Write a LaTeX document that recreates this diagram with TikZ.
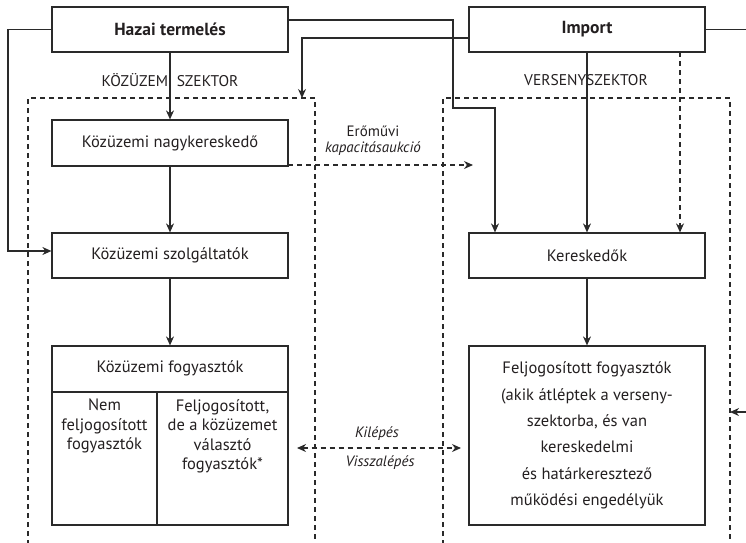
\documentclass[tikz,border=0pt]{standalone}
\usepackage{fontspec}
\setmainfont{PT Sans}
\usetikzlibrary{arrows.meta}
\definecolor{ink}{HTML}{231F20}
\definecolor{ln}{HTML}{2A2A2A}
\tikzset{
  box/.style={draw=ln, line width=1.2pt, rectangle, minimum width=236pt, inner sep=0pt, text=ink, font=\fontsize{16.5}{19}\selectfont},
  conn/.style={draw=ln, line width=1.2pt, -{Stealth[length=9pt,width=8pt]}},
  dconn/.style={conn, dash pattern=on 5pt off 4pt},
  sector/.style={draw=ln, line width=1.2pt, dash pattern=on 5pt off 4pt},
  lbl/.style={text=ink, font=\fontsize{15.5}{17}\selectfont, inner sep=0pt},
  mlbl/.style={text=ink, font=\fontsize{15}{17}\selectfont, inner sep=0pt},
  cell/.style={text=ink, font=\fontsize{16.5}{19.5}\selectfont, align=center, inner sep=0pt, anchor=north},
}
\begin{document}
\begin{tikzpicture}[x=1pt,y=-1pt]
\useasboundingbox (0,0) rectangle (746,542);
% sectors
\draw[sector] (28,545) -- (28,98) -- (315,98) -- (315,545);
\draw[sector] (443,545) -- (443,98) -- (730,98) -- (730,545);
% boxes
\node[box, minimum height=45pt, font=\fontsize{17.5}{19}\selectfont\bfseries] (hazai) at (170,29.5) {Hazai termelés};
\node[box, minimum height=45pt, font=\fontsize{17.5}{19}\selectfont\bfseries] (import) at (587,29.5) {Import};
\node[box, minimum height=46pt] (nagyker) at (170,143) {Közüzemi nagykereskedő};
\node[box, minimum height=45pt] (szolg) at (170,255.5) {Közüzemi szolgáltatók};
\node[box, minimum height=45pt] (keresk) at (587,255.5) {Kereskedők};
\node[box, minimum height=179pt] (fogy) at (170,435.5) {};
\node[box, minimum height=179pt, align=center, font=\fontsize{16.5}{26.4}\selectfont] (feljog) at (587,435.5) {Feljogosított fogyasztók\\(akik átléptek a verseny-\\szektorba, és van\\kereskedelmi\\és határkeresztező\\működési engedélyük};
% fogyasztok inner
\node[text=ink, font=\fontsize{16.5}{19}\selectfont, inner sep=0pt] (fogyt) at (170,368) {Közüzemi fogyasztók};
\coordinate (dv) at (157,392);
\draw[draw=ln, line width=1.2pt] (fogy.west |- dv) -- (fogy.east |- dv);
\draw[draw=ln, line width=1.2pt] (dv) -- (dv |- fogy.south);
\node[cell] (nemf) at (104.5,399) {Nem\\feljogosított\\fogyasztók};
\node[cell] (felf) at (222.5,399) {Feljogosított,\\de a közüzemet\\választó\\fogyasztók*};
% sector labels
\node[lbl] (ksz) at (170,80) {KÖZÜZEMI SZEKTOR};
\node[lbl] (vsz) at (586,80) {VERSENYSZEKTOR};
% connectors
\draw[conn] (hazai) -- (nagyker);
\draw[conn] (nagyker) -- (szolg);
\draw[conn] (szolg) -- (fogy);
\draw[conn] (keresk) -- (feljog);
\coordinate (lft) at (8,251);
\draw[conn] (hazai.west) -| (lft) -- (lft -| szolg.west);
\coordinate (h1) at (453,20);
\coordinate (h2) at (495,108);
\draw[conn] (h1 -| hazai.east) -- (h1) |- (h2) -- (h2 |- keresk.north);
\coordinate (i1) at (302,38);
\coordinate (i2) at (302,98);
\draw[conn] (i1 -| import.west) -- (i1) -- (i2);
\draw[conn] (import.south -| keresk.north) -- (keresk.north);
\coordinate (d1) at (680,52);
\draw[dconn] (d1) -- (d1 |- keresk.north);
\coordinate (r1) at (749,29.5);
\coordinate (r2) at (749,412);
\coordinate (r3) at (730,412);
\draw[conn] (import.east) -- (r1) -- (r2) -- (r3);
% market arrows
\coordinate (e1) at (288,165);
\coordinate (e2) at (473,165);
\draw[dconn] (e1) -- (e2);
\node[mlbl] (er1) at (373,131) {Erőművi};
\node[mlbl, font=\fontsize{15}{17}\selectfont\itshape] (er2) at (373,149) {kapacitásaukció};
\coordinate (k1) at (297,448);
\coordinate (k2) at (461,448);
\draw[dconn, {Stealth[length=9pt,width=8pt]}-{Stealth[length=9pt,width=8pt]}] (k1) -- (k2);
\node[mlbl, font=\fontsize{15}{17}\selectfont\itshape] (kil) at (377,434) {Kilépés};
\node[mlbl, font=\fontsize{15}{17}\selectfont\itshape] (vis) at (380,463) {Visszalépés};
\end{tikzpicture}
\end{document}
